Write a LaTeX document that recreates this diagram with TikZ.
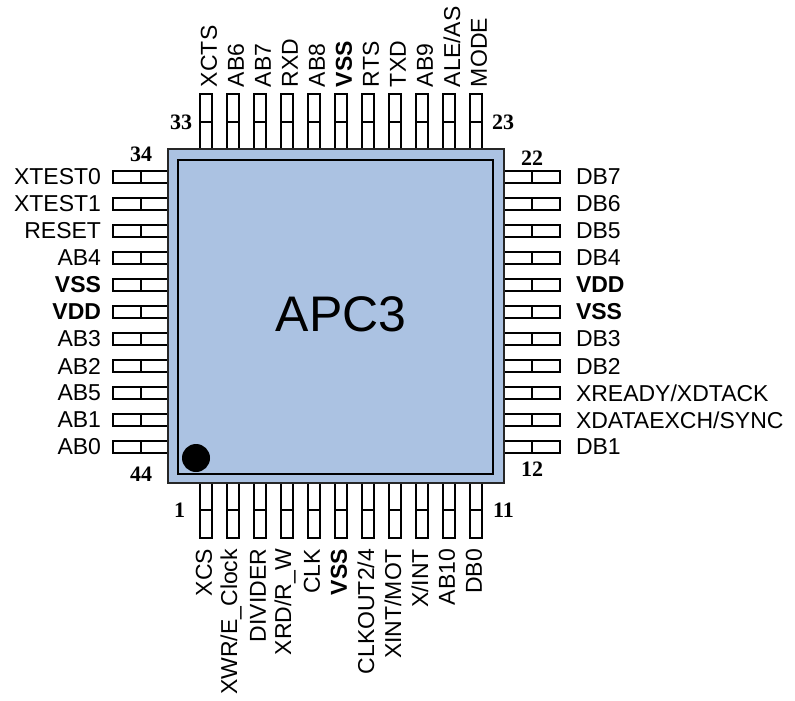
\documentclass[tikz,border=0pt]{standalone}
\usepackage{fontspec}
\setmainfont{Liberation Sans}
\newfontfamily\numfont{Liberation Serif}
\usetikzlibrary{positioning}
\definecolor{chipblue}{RGB}{171,194,226}

\begin{document}
\begin{tikzpicture}[x=1pt, y=-1pt, node distance=27pt,
		every label/.style={inner sep=0pt, font=\fontsize{23}{27}\selectfont},
		pad/.style={draw, fill=white, line width=1.6pt, inner sep=0pt},
		hpad/.style={pad, minimum width=56, minimum height=12,
			path picture={\draw[line width=1.6pt] (path picture bounding box.north) -- (path picture bounding box.south);}},
		vpad/.style={pad, minimum width=12, minimum height=56,
			path picture={\draw[line width=1.6pt] (path picture bounding box.west) -- (path picture bounding box.east);}},
		lname/.style={label={[label distance=11pt]west:#1}},
		rname/.style={label={[label distance=15pt]east:#1}},
		tname/.style={label={[rotate=90, anchor=west, xshift=6pt, yshift=-3pt]north:#1}},
		bname/.style={label={[rotate=90, anchor=east, xshift=-10pt, yshift=2pt]south:#1}},
		num/.style={font=\numfont\bfseries\fontsize{22}{26}\selectfont}]
			\useasboundingbox (0,0) rectangle (795,701);

			% left side, 34 to 44
			\node[hpad, label={[num, label distance=8pt]above:34}, lname=XTEST0] (34) at (141,177) {};
			\node[hpad, lname=XTEST1] (35) [below of = 34] {};
			\node[hpad, lname=RESET] (36) [below of = 35] {};
			\node[hpad, lname=AB4] (37) [below of = 36] {};
			\node[hpad, lname={\bfseries VSS}] (38) [below of = 37] {};
			\node[hpad, lname={\bfseries VDD}] (39) [below of = 38] {};
			\node[hpad, lname=AB3] (40) [below of = 39] {};
			\node[hpad, lname=AB2] (41) [below of = 40] {};
			\node[hpad, lname=AB5] (42) [below of = 41] {};
			\node[hpad, lname=AB1] (43) [below of = 42] {};
			\node[hpad, lname=AB0, label={[num, label distance=13pt]below:44}] (44) [below of = 43] {};

			% right side, 22 to 12
			\node[hpad, label={[num, label distance=5pt]above:22}, rname=DB7] (22) at (532,177) {};
			\node[hpad, rname=DB6] (21) [below of = 22] {};
			\node[hpad, rname=DB5] (20) [below of = 21] {};
			\node[hpad, rname=DB4] (19) [below of = 20] {};
			\node[hpad, rname={\bfseries VDD}] (18) [below of = 19] {};
			\node[hpad, rname={\bfseries VSS}] (17) [below of = 18] {};
			\node[hpad, rname=DB3] (16) [below of = 17] {};
			\node[hpad, rname=DB2] (15) [below of = 16] {};
			\node[hpad, rname=XREADY/XDTACK] (14) [below of = 15] {};
			\node[hpad, rname=XDATAEXCH/SYNC] (13) [below of = 14] {};
			\node[hpad, rname=DB1, label={[num, label distance=8pt]below:12}] (12) [below of = 13] {};

			% top side, 33 to 23
			\node[vpad, label={[num, label distance=7pt]west:33}, tname=XCTS] (33) at (206,122) {};
			\node[vpad, tname=AB6] (32) [right of = 33] {};
			\node[vpad, tname=AB7] (31) [right of = 32] {};
			\node[vpad, tname=RXD] (30) [right of = 31] {};
			\node[vpad, tname=AB8] (29) [right of = 30] {};
			\node[vpad, tname={\bfseries VSS}] (28) [right of = 29] {};
			\node[vpad, tname=RTS] (27) [right of = 28] {};
			\node[vpad, tname=TXD] (26) [right of = 27] {};
			\node[vpad, tname=AB9] (25) [right of = 26] {};
			\node[vpad, tname=ALE/AS] (24) [right of = 25] {};
			\node[vpad, tname=MODE, label={[num, label distance=9pt]east:23}] (23) [right of = 24] {};

			% bottom side, 1 to 11
			\node[vpad, label={[num, label distance=14pt]west:1}, bname=XCS] (1) at (206,510) {};
			\node[vpad, bname=XWR/E\_Clock] (2) [right of = 1] {};
			\node[vpad, bname=DIVIDER] (3) [right of = 2] {};
			\node[vpad, bname=XRD/R\_W] (4) [right of = 3] {};
			\node[vpad, bname=CLK] (5) [right of = 4] {};
			\node[vpad, bname={\bfseries VSS}] (6) [right of = 5] {};
			\node[vpad, bname=CLKOUT2/4] (7) [right of = 6] {};
			\node[vpad, bname=XINT/MOT] (8) [right of = 7] {};
			\node[vpad, bname=X/INT] (9) [right of = 8] {};
			\node[vpad, bname=AB10] (10) [right of = 9] {};
			\node[vpad, bname=DB0, label={[num, label distance=10pt]east:11}] (11) [right of = 10] {};

			% chip body
			\node[draw=black!85, line width=2pt, fill=chipblue, inner sep=0pt,
				minimum width=336, minimum height=334] (chip) at (336,316) {};
			\node[draw, line width=1.6pt, inner sep=0pt,
				minimum width=315, minimum height=314] (core) at (335.5,317) {};
			\node[font=\fontsize{50}{60}\selectfont] (name) at (341,314) {APC3};
			\node[circle, fill, inner sep=0pt, minimum size=28] (dot) at (196,458) {};
		\end{tikzpicture}
\end{document}
